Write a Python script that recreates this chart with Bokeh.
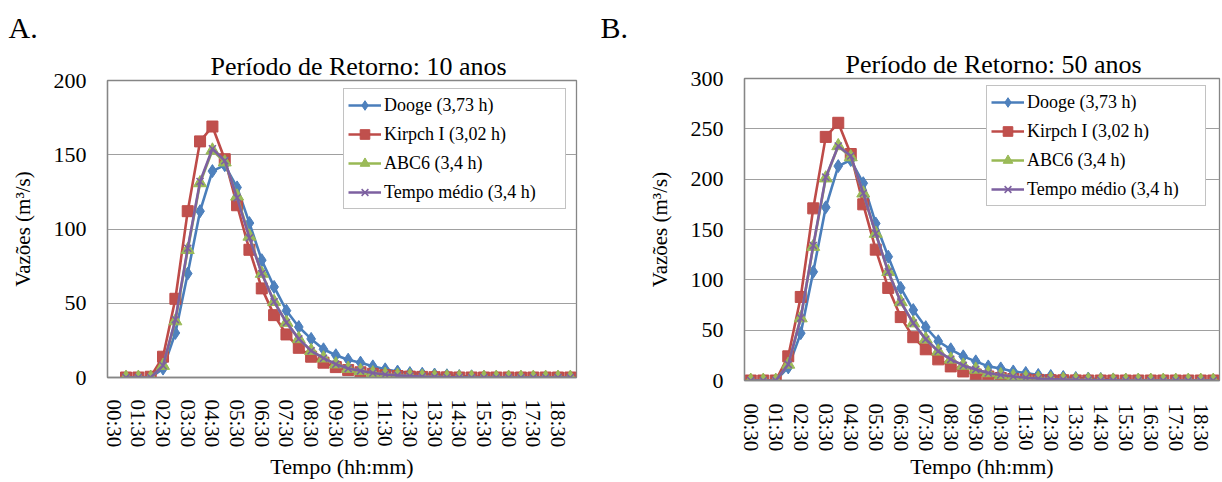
import math
from bokeh.plotting import figure
from bokeh.models import FixedTicker, Legend, LegendItem, Title, Range1d
from bokeh.layouts import row
from bokeh.embed import file_html
from bokeh.resources import INLINE

nan = float("nan")

times = ["00:30", "01:00", "01:30", "02:00", "02:30", "03:00", "03:30", "04:00",
         "04:30", "05:00", "05:30", "06:00", "06:30", "07:00", "07:30", "08:00",
         "08:30", "09:00", "09:30", "10:00", "10:30", "11:00", "11:30", "12:00",
         "12:30", "13:00", "13:30", "14:00", "14:30", "15:00", "15:30", "16:00",
         "16:30", "17:00", "17:30", "18:00", "18:30", "19:00"]

series_names = ["Dooge (3,73 h)", "Kirpch I (3,02 h)", "ABC6 (3,4 h)", "Tempo médio (3,4 h)"]

# Panel A - Tr 10 anos
dooge_10 = [nan, 0, 0, 0, 6, 30, 70, 112, 139, 143, 128, 104, 79, 61, 45, 34, 26, 19, 15,
            12, 10, 7.5, 5.5, 4, 3, 2.5, 2, 1.5, 1, 0.8, 0.5, 0.3, 0.2, 0.1, 0, 0, 0, 0]
kirpich_10 = [nan, 0, 0, 0.5, 14, 53, 112, 159, 169, 147, 116, 86, 60, 42, 29, 20, 14, 10, 7,
              5, 3.5, 2.5, 1.5, 1, 0.6, 0.4, 0.2, 0.1, 0, 0, 0, 0, 0, 0, 0, 0, 0, 0]
abc6_10 = [nan, 0, 0, 0, 8, 38, 86, 131, 153, 145, 122, 95, 70, 51, 37, 26, 18, 13, 9,
           6, 4.5, 3, 2, 1.4, 1, 0.6, 0.4, 0.2, 0.1, 0, 0, 0, 0, 0, 0, 0, 0, 0]
medio_10 = [nan, 0, 0, 0, 8, 39, 87, 132, 154, 146, 121, 94, 70, 51, 37, 26, 18, 13, 9,
            6, 4.5, 3, 2, 1.4, 1, 0.6, 0.4, 0.2, 0.1, 0, 0, 0, 0, 0, 0, 0, 0, 0]

# Panel B - Tr 50 anos
dooge_50 = [0, 0, 0, 13, 47, 108, 172, 213, 219, 196, 156, 123, 92, 70, 53, 39, 31, 24, 19,
            14, 12, 9, 7.5, 5.5, 4.5, 3.5, 2.5, 2, 1.5, 1, 0.7, 0.5, 0.3, 0.2, 0.1, 0, 0, 0]
kirpich_50 = [0, 0, 0, 24, 83, 171, 242, 256, 225, 175, 130, 92, 63, 43, 31, 21, 14, 9, 6,
              4, 2.5, 1.5, 1, 0.6, 0.3, 0.2, 0.1, 0, 0, 0, 0, 0, 0, 0, 0, 0, 0, 0]
abc6_50 = [0, 0, 0, 16, 62, 133, 201, 233, 222, 186, 146, 108, 78, 57, 41, 29, 21, 15, 11,
           7.5, 5.5, 4, 2.8, 2, 1.4, 1, 0.6, 0.4, 0.2, 0.1, 0, 0, 0, 0, 0, 0, 0, 0]
medio_50 = [0, 0, 0, 16, 62, 134, 202, 233, 223, 186, 146, 108, 78, 57, 41, 29, 21, 15, 11,
            7.5, 5.5, 4, 2.8, 2, 1.4, 1, 0.6, 0.4, 0.2, 0.1, 0, 0, 0, 0, 0, 0, 0, 0]

line_colors = ["#4A7EBB", "#BE4B48", "#98B954", "#7D60A0"]
fill_colors = ["#4F81BD", "#C0504D", "#9BBB59", "#8064A2"]
markers = ["diamond", "square", "triangle", "x"]
msizes = [13, 11, 13, 10]

FONT = "Liberation Serif"
GRAY = "#868686"


def make_panel(letter, title, ymax, data, width, left, right, top, bottom,
               title_offset, letter_offset, letter_standoff, legend_loc, label_width,
               tick_standoff, label_standoff):
    x = list(range(len(times)))
    p = figure(width=width, height=482, x_range=Range1d(-0.5, len(times) - 0.5),
               y_range=Range1d(0, ymax), output_backend="svg", toolbar_location=None,
               min_border_left=left, min_border_right=right,
               min_border_top=top, min_border_bottom=bottom)
    p.frame_align = False
    p.title = None
    p.background_fill_color = "white"
    p.border_fill_color = "white"
    p.outline_line_color = GRAY
    p.outline_line_width = 1.3

    t = Title(text=title, align="left", offset=title_offset, standoff=0,
              text_font=FONT, text_font_size="26px", text_font_style="normal",
              text_color="black")
    p.add_layout(t, "above")
    tl = Title(text=letter, align="left", offset=letter_offset, standoff=letter_standoff,
               text_font=FONT, text_font_size="30px", text_font_style="normal",
               text_color="black")
    p.add_layout(tl, "above")

    xa = p.xaxis[0]
    xa.ticker = FixedTicker(ticks=list(range(0, len(times), 2)))
    xa.major_label_overrides = {i: times[i] for i in range(0, len(times), 2)}
    xa.major_label_orientation = "vertical"
    xa.major_tick_line_color = None
    xa.minor_tick_line_color = None
    xa.axis_line_color = GRAY
    xa.axis_line_width = 1.3
    xa.major_label_standoff = tick_standoff
    xa.major_label_text_font = FONT
    xa.major_label_text_font_size = "21px"
    xa.major_label_text_color = "black"
    xa.axis_label = "Tempo (hh:mm)"
    xa.axis_label_text_font = FONT
    xa.axis_label_text_font_size = "22px"
    xa.axis_label_text_font_style = "normal"
    xa.axis_label_text_color = "black"
    xa.axis_label_text_line_height = 1.0
    xa.axis_label_standoff = label_standoff

    ya = p.yaxis[0]
    ya.ticker = FixedTicker(ticks=list(range(0, ymax + 1, 50)))
    ya.major_tick_line_color = None
    ya.minor_tick_line_color = None
    ya.axis_line_color = GRAY
    ya.axis_line_width = 1.3
    ya.major_label_standoff = 15
    ya.major_label_text_font = FONT
    ya.major_label_text_font_size = "22px"
    ya.major_label_text_color = "black"
    ya.axis_label = "Vazões (m³/s)"
    ya.axis_label_text_font = FONT
    ya.axis_label_text_font_size = "21px"
    ya.axis_label_text_font_style = "normal"
    ya.axis_label_text_color = "black"
    ya.axis_label_standoff = 16

    p.xgrid.grid_line_color = None
    p.ygrid.grid_line_color = "#A0A0A0"
    p.ygrid.grid_line_width = 1.2

    items = []
    for k, ys in enumerate(data):
        l = p.line(x, ys, line_color=line_colors[k], line_width=2.6)
        s = p.scatter(x, ys, marker=markers[k], size=msizes[k],
                      fill_color=fill_colors[k], line_color=line_colors[k],
                      line_width=1.5 if markers[k] == "x" else 1)
        items.append(LegendItem(label=series_names[k], renderers=[l, s]))

    leg = Legend(items=items, location=legend_loc, orientation="vertical",
                 label_text_font=FONT, label_text_font_size="18px",
                 label_text_color="black", glyph_width=33, glyph_height=24,
                 label_height=24, label_width=label_width, spacing=5, padding=4,
                 label_standoff=3, margin=0, border_line_color=GRAY,
                 border_line_width=1.2, background_fill_color="white",
                 background_fill_alpha=1.0)
    p.add_layout(leg)
    return p


pA = make_panel("A.", "Período de Retorno: 10 anos", 200,
                [dooge_10, kirpich_10, abc6_10, medio_10],
                width=598, left=107, right=22, top=80, bottom=104,
                title_offset=103, letter_offset=-99, letter_standoff=12,
                legend_loc=(236, 168), label_width=177, tick_standoff=16,
                label_standoff=4)
pB = make_panel("B.", "Período de Retorno: 50 anos", 300,
                [dooge_50, kirpich_50, abc6_50, medio_50],
                width=624, left=146, right=3, top=78, bottom=101,
                title_offset=101, letter_offset=-144, letter_standoff=8,
                legend_loc=(242, 174), label_width=174, tick_standoff=17,
                label_standoff=0)

layout = row(pA, pB)
open("out.html", "w").write(file_html(layout, INLINE))
